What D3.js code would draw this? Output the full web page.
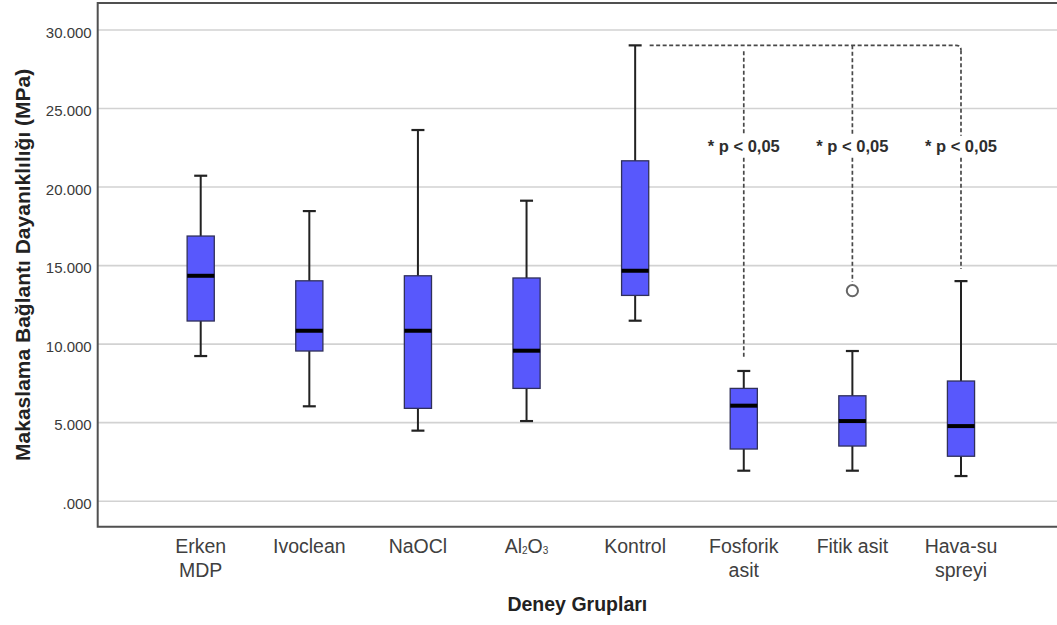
<!DOCTYPE html>
<html>
<head>
<meta charset="utf-8">
<script src="https://cdn.jsdelivr.net/npm/d3@7"></script>
<style>
  body { margin: 0; background: #fff; }
  svg { display: block; font-family: "Liberation Sans", Arial, sans-serif; }
</style>
</head>
<body>
<div id="chart"></div>
<script>
// groups and box-plot stats (MPa)
var groups = ["Erken\nMDP", "Ivoclean", "NaOCl", "Al2O3", "Kontrol", "Fosforik\nasit", "Fitik asit", "Hava-su\nspreyi"];
var whiskerLow  = [9.21, 6.01, 4.46, 5.07, 11.46, 1.91, 1.91, 1.57];
var q1          = [11.44, 9.53, 5.88, 7.15, 13.07, 3.29, 3.48, 2.83];
var medians     = [14.32, 10.82, 10.82, 9.55, 14.64, 6.05, 5.07, 4.75];
var q3          = [16.85, 14.00, 14.32, 14.18, 21.64, 7.15, 6.68, 7.62];
var whiskerHigh = [20.69, 18.44, 23.60, 19.10, 28.99, 8.26, 9.53, 13.98];
var outliers    = [{ group: "Fitik asit", value: 13.37 }];

var yTicks = [0, 5, 10, 15, 20, 25, 30];
var xTitle = "Deney Grupları";
var yTitle = "Makaslama Bağlantı Dayanıklılığı (MPa)";

// significance vs. Kontrol
var refGroup = "Kontrol";
var compared = ["Fosforik\nasit", "Fitik asit", "Hava-su\nspreyi"];
var pText = "* p < 0,05";
var pTextValue = 22.6;

var W = 1057, H = 625;
var plotLeft = 97.7, plotTop = 3, plotBottom = 526.7;

var svg = d3.select("#chart").append("svg").attr("width", W).attr("height", H);

var x = d3.scaleBand().domain(groups).range([146.4, 1015.3]).padding(0);
var y = d3.scaleLinear().domain([0, 30]).range([500.7, 29.5]);
var boxW = x.bandwidth() * 0.25;
var capW = 13;
var cx = function(g) { return x(g) + x.bandwidth() / 2 };

var fmt = function(d) { return d3.format(".3f")(d).replace(/^0\./, ".") };

// gridlines + y labels
var yAxis = d3.axisLeft(y).tickValues(yTicks).tickFormat(fmt).tickSize(-(W - plotLeft + 5)).tickPadding(6);
var gy = svg.append("g").attr("transform", "translate(" + plotLeft + ",0)").call(yAxis);
gy.select(".domain").remove();
gy.selectAll(".tick line").attr("stroke", "#d2d2d2").attr("stroke-width", 1.6);
gy.selectAll(".tick text").attr("dy", "7.8px").attr("fill", "#3a3a3a").style("font-size", "15px");

// frame
svg.append("path")
  .attr("d", "M" + (W + 5) + "," + plotTop + "H" + plotLeft + "V" + plotBottom + "H" + (W + 5))
  .attr("fill", "none").attr("stroke", "#505050").attr("stroke-width", 2);

// x labels
var xAxis = d3.axisBottom(x).tickSize(0);
var gx = svg.append("g").attr("transform", "translate(0," + plotBottom + ")").call(xAxis);
gx.select(".domain").remove();
gx.selectAll(".tick text").each(function(d) {
  var t = d3.select(this).text(null).attr("y", 0).attr("dy", null)
    .attr("fill", "#404040").style("font-size", "19.5px");
  d.split("\n").forEach(function(line, li) {
    var row = t.append("tspan").attr("x", 0).attr("y", 26 + li * 24.5);
    line.split(/(\d+)/).forEach(function(part) {
      if (!part) return;
      if (/^\d+$/.test(part)) {
        row.append("tspan").text(part).style("font-size", "10px").attr("baseline-shift", "-1");
      } else {
        row.append("tspan").text(part);
      }
    });
  });
});

// boxes
var boxes = svg.append("g").selectAll("g").data(groups).enter().append("g");
boxes.append("line")
  .attr("x1", cx).attr("x2", cx)
  .attr("y1", function(d, i) { return y(whiskerLow[i]) })
  .attr("y2", function(d, i) { return y(whiskerHigh[i]) })
  .attr("stroke", "#222").attr("stroke-width", 2);
[whiskerLow, whiskerHigh].forEach(function(arr) {
  boxes.append("line")
    .attr("x1", function(d) { return cx(d) - capW / 2 })
    .attr("x2", function(d) { return cx(d) + capW / 2 })
    .attr("y1", function(d, i) { return y(arr[i]) })
    .attr("y2", function(d, i) { return y(arr[i]) })
    .attr("stroke", "#222").attr("stroke-width", 2.2);
});
boxes.append("rect")
  .attr("x", function(d) { return cx(d) - boxW / 2 })
  .attr("width", boxW)
  .attr("y", function(d, i) { return y(q3[i]) })
  .attr("height", function(d, i) { return y(q1[i]) - y(q3[i]) })
  .attr("fill", "#5858fc").attr("stroke", "#30305a").attr("stroke-width", 1.3);
boxes.append("line")
  .attr("x1", function(d) { return cx(d) - boxW / 2 })
  .attr("x2", function(d) { return cx(d) + boxW / 2 })
  .attr("y1", function(d, i) { return y(medians[i]) })
  .attr("y2", function(d, i) { return y(medians[i]) })
  .attr("stroke", "#000").attr("stroke-width", 4);

svg.selectAll(".outlier").data(outliers).enter().append("circle")
  .attr("class", "outlier")
  .attr("cx", function(d) { return cx(d.group) })
  .attr("cy", function(d) { return y(d.value) })
  .attr("r", 5.6)
  .attr("fill", "#fff").attr("stroke", "#666").attr("stroke-width", 2);

// significance bracket
var ref = groups.indexOf(refGroup);
var by = y(whiskerHigh[ref]);
var gAnn = svg.append("g");
var dash = function(sel) {
  return sel.attr("fill", "none").attr("stroke", "#484848").attr("stroke-width", 1.7).attr("stroke-dasharray", "4,2.5");
};
var lastX = cx(compared[compared.length - 1]);
var rad = 5;
dash(gAnn.append("path").attr("d",
  "M" + (cx(refGroup) + capW / 2 + 8) + "," + by + "H" + (lastX - rad) +
  "Q" + lastX + "," + by + " " + lastX + "," + (by + rad)));

var ty = y(pTextValue);
compared.forEach(function(g, k) {
  var i = groups.indexOf(g);
  var hi = whiskerHigh[i];
  outliers.forEach(function(o) { if (o.group === g) hi = Math.max(hi, o.value) });
  var endY = y(hi) - (hi === whiskerHigh[i] ? 12 : 9);
  var gx0 = cx(g);
  var startY = k === compared.length - 1 ? by + rad : (k === 0 ? by + 6 : by);
  dash(gAnn.append("path").attr("d",
    "M" + gx0 + "," + startY + "V" + (ty - 10) + "M" + gx0 + "," + (ty + 12) + "V" + endY));
  gAnn.append("text").attr("x", gx0).attr("y", ty + 6)
    .attr("text-anchor", "middle").attr("fill", "#2e2e2e")
    .style("font-size", "16.5px").style("font-weight", "bold")
    .text(pText);
});

// axis titles
svg.append("text")
  .attr("x", (plotLeft + W) / 2).attr("y", 611)
  .attr("text-anchor", "middle").attr("fill", "#222")
  .style("font-size", "19.5px").style("font-weight", "bold")
  .text(xTitle);
svg.append("text")
  .attr("transform", "translate(30," + ((plotTop + plotBottom) / 2) + ") rotate(-90)")
  .attr("text-anchor", "middle").attr("fill", "#222")
  .style("font-size", "21px").style("font-weight", "bold")
  .text(yTitle);
</script>
</body>
</html>
